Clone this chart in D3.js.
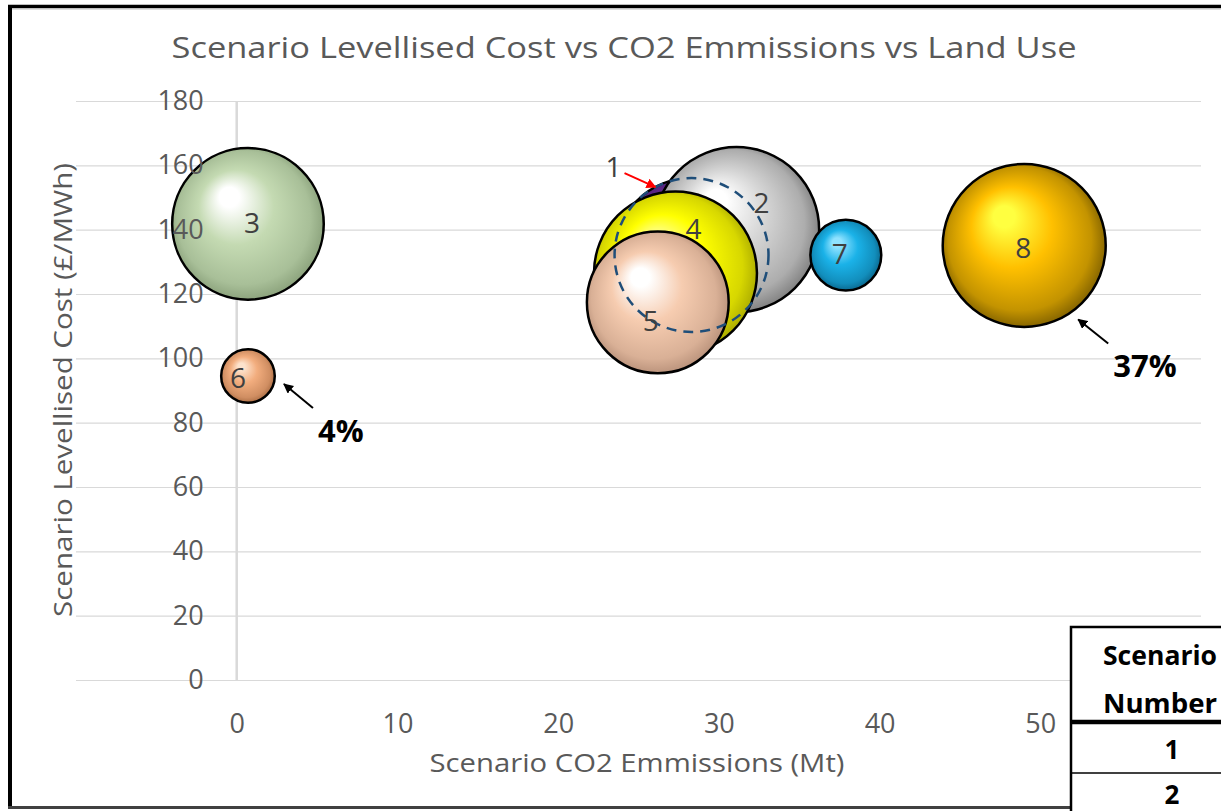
<!DOCTYPE html>
<html>
<head>
<meta charset="utf-8">
<script src="https://cdn.jsdelivr.net/npm/d3@7"></script>
<style>
  html, body { margin: 0; padding: 0; background: #fff; overflow: hidden; }
  text { font-family: "Open Sans", "Noto Sans", sans-serif; }
</style>
</head>
<body>
<svg id="chart" width="1221" height="811"></svg>
<script>
// Scenario data: CO2 emissions (Mt), levellised cost (£/MWh), land use (%)
const scenarios = [1, 2, 3, 4, 5, 6, 7, 8];
const co2Emissions = [28.3, 31.1, 0.7, 27.3, 26.2, 0.7, 37.9, 49.0];
const levellisedCost = [132.1, 140.0, 141.8, 126.5, 117.4, 94.5, 132.1, 135.1];
const landUse = [33, 38, 32, 37, 28, 4, 7, 37];

const xTicks = [0, 10, 20, 30, 40, 50];
const yTicks = [0, 20, 40, 60, 80, 100, 120, 140, 160, 180];

const titleText = "Scenario Levellised Cost vs CO2 Emmissions vs Land Use";
const xTitle = "Scenario CO2 Emmissions (Mt)";
const yTitle = "Scenario Levellised Cost (£/MWh)";
const tableHeader = ["Scenario", "Number"];
const tableRows = ["1", "2"];

// Sphere shading per scenario: [highlight, body, shadow]
const sphereColours = [
  ["#b27ae0", "#7030a0", "#35104f"],
  ["#ffffff", "#d6d6d6", "#6f6f6f"],
  ["#ffffff", "#c4dab2", "#7f9670"],
  ["#ffff90", "#ffff00", "#9a9a00"],
  ["#ffffff", "#f6ccb0", "#ad8670"],
  ["#fde2cc", "#f2ad7e", "#9c6038"],
  ["#8fe2ff", "#1ab2e8", "#07577a"],
  ["#ffff40", "#ffc000", "#6a5000"]
];

// Label placement tweaks (px) relative to each bubble centre
const labelShift = [[-78, -89], [25, -28], [4, -2], [18, -45], [-7, 18], [-10, 1], [-6, -2], [-1, 2]];

const svg = d3.select("#chart");
const W = 1221, H = 811;

const x = d3.scaleLinear().domain([-10, 60]).range([76, 1201]);
const y = d3.scaleLinear().domain([0, 180]).range([680, 101]);
const r = d3.scaleSqrt().domain([0, 37]).range([0, 81.5]);

const data = scenarios.map((s, i) => ({
  id: s, cx: co2Emissions[i], cy: levellisedCost[i], size: landUse[i], i
}));

svg.append("rect").attr("width", W).attr("height", H).attr("fill", "#fff");

// Gradients and arrow markers
const defs = svg.append("defs");
data.forEach(d => {
  const c = sphereColours[d.i];
  const g = defs.append("radialGradient")
    .attr("id", "sphere" + d.id)
    .attr("cx", "50%").attr("cy", "50%").attr("r", "55%")
    .attr("fx", "36%").attr("fy", "30%");
  g.append("stop").attr("offset", "0%").attr("stop-color", c[0]);
  g.append("stop").attr("offset", "12%").attr("stop-color", c[0]);
  g.append("stop").attr("offset", "45%").attr("stop-color", c[1]);
  g.append("stop").attr("offset", "80%").attr("stop-color", d3.interpolateRgb(c[1], c[2])(0.4));
  g.append("stop").attr("offset", "100%").attr("stop-color", c[2]);
});
[["arrowBlack", "#000"], ["arrowRed", "#ff0000"]].forEach(([id, col]) => {
  defs.append("marker").attr("id", id)
    .attr("viewBox", "0 0 10 10").attr("refX", 9).attr("refY", 5)
    .attr("markerWidth", 5).attr("markerHeight", 5)
    .attr("markerUnits", "strokeWidth").attr("orient", "auto")
    .append("path").attr("d", "M0,0 L10,5 L0,10 z").attr("fill", col);
});

// Horizontal gridlines
const grid = svg.append("g")
  .attr("transform", `translate(${x.range()[1]},0)`)
  .call(d3.axisLeft(y).tickValues(yTicks).tickSize(x.range()[1] - x.range()[0]).tickFormat(""));
grid.select(".domain").remove();
grid.selectAll(".tick line").attr("stroke", "#d9d9d9").attr("stroke-width", 1.2);

// Vertical value axis line at x = 0
svg.append("line")
  .attr("x1", x(0)).attr("x2", x(0))
  .attr("y1", y(0)).attr("y2", y(180))
  .attr("stroke", "#d9d9d9").attr("stroke-width", 2.5);

// Bubbles
const bubbles = svg.append("g");
bubbles.selectAll("circle")
  .data(data)
  .join("circle")
  .attr("cx", d => x(d.cx))
  .attr("cy", d => y(d.cy))
  .attr("r", d => r(d.size))
  .attr("fill", d => `url(#sphere${d.id})`)
  .attr("stroke", "#000")
  .attr("stroke-width", 2.5);

// Dashed outline for scenario 1, which sits behind the others
const s1 = data[0];
svg.append("circle")
  .attr("cx", x(s1.cx)).attr("cy", y(s1.cy)).attr("r", r(s1.size))
  .attr("fill", "none")
  .attr("stroke", "#1f4e79").attr("stroke-width", 2.5)
  .attr("stroke-dasharray", "10,7");

// Red pointer to scenario 1
svg.append("line")
  .attr("x1", x(s1.cx) - 67).attr("y1", y(s1.cy) - 82)
  .attr("x2", x(s1.cx) - 36).attr("y2", y(s1.cy) - 68)
  .attr("stroke", "#ff0000").attr("stroke-width", 2)
  .attr("marker-end", "url(#arrowRed)");

// Bubble number labels
svg.append("g").selectAll("text")
  .data(data)
  .join("text")
  .attr("x", d => x(d.cx) + labelShift[d.i][0])
  .attr("y", d => y(d.cy) + labelShift[d.i][1])
  .attr("text-anchor", "middle")
  .attr("dominant-baseline", "central")
  .attr("font-size", 28)
  .attr("fill", "#404040")
  .text(d => d.id);

// Y axis tick labels
const yAxis = svg.append("g")
  .attr("transform", `translate(${x(0)},0)`)
  .call(d3.axisLeft(y).tickValues(yTicks).tickSize(0).tickPadding(33));
yAxis.select(".domain").remove();
yAxis.selectAll("text")
  .attr("font-family", "Open Sans, sans-serif")
  .attr("font-size", 27).attr("fill", "#595959");

// X axis tick labels
const xAxis = svg.append("g")
  .attr("transform", `translate(0,${y(0)})`)
  .call(d3.axisBottom(x).tickValues(xTicks).tickSize(0).tickPadding(34));
xAxis.select(".domain").remove();
xAxis.selectAll("text")
  .attr("font-family", "Open Sans, sans-serif")
  .attr("font-size", 27).attr("fill", "#595959");

// Title and axis titles
svg.append("text")
  .attr("x", 624).attr("y", 58)
  .attr("text-anchor", "middle")
  .attr("font-size", 30).attr("fill", "#595959")
  .attr("textLength", 905).attr("lengthAdjust", "spacingAndGlyphs")
  .text(titleText);

svg.append("text")
  .attr("x", 637).attr("y", 772)
  .attr("text-anchor", "middle")
  .attr("font-size", 26).attr("fill", "#595959")
  .attr("textLength", 415).attr("lengthAdjust", "spacingAndGlyphs")
  .text(xTitle);

svg.append("text")
  .attr("transform", "translate(72,390) rotate(-90)")
  .attr("text-anchor", "middle")
  .attr("font-size", 26).attr("fill", "#595959")
  .attr("textLength", 454).attr("lengthAdjust", "spacingAndGlyphs")
  .text(yTitle);

// Land-use callouts for scenarios 6 and 8
const callouts = [
  { i: 5, tip: [36, 8], tail: [65, 32], text: [70, 66] },
  { i: 7, tip: [54, 74], tail: [84, 98], text: [89, 132] }
];
callouts.forEach(c => {
  const d = data[c.i];
  const bx = x(d.cx), by = y(d.cy);
  svg.append("line")
    .attr("x1", bx + c.tail[0]).attr("y1", by + c.tail[1])
    .attr("x2", bx + c.tip[0]).attr("y2", by + c.tip[1])
    .attr("stroke", "#000").attr("stroke-width", 2)
    .attr("marker-end", "url(#arrowBlack)");
  svg.append("text")
    .attr("x", bx + c.text[0]).attr("y", by + c.text[1])
    .attr("font-size", 31).attr("font-weight", 700).attr("fill", "#000")
    .text(d.size + "%");
});

// Outer frame
svg.append("line").attr("x1", 8).attr("x2", W).attr("y1", 6.5).attr("y2", 6.5)
  .attr("stroke", "#000").attr("stroke-width", 3.5);
svg.append("line").attr("x1", 8).attr("x2", W).attr("y1", 9).attr("y2", 9)
  .attr("stroke", "#bfbfbf").attr("stroke-width", 1);
svg.append("line").attr("x1", 10).attr("x2", 10).attr("y1", 5).attr("y2", 808)
  .attr("stroke", "#000").attr("stroke-width", 4);
svg.append("line").attr("x1", 8).attr("x2", 1071).attr("y1", 807.5).attr("y2", 807.5)
  .attr("stroke", "#404040").attr("stroke-width", 3);

// Scenario table (extends past the right edge)
const table = svg.append("g");
table.append("rect")
  .attr("x", 1071).attr("y", 627).attr("width", 200).attr("height", 220)
  .attr("fill", "#fff").attr("stroke", "#000").attr("stroke-width", 2.5);
table.selectAll("text.head")
  .data(tableHeader)
  .join("text").attr("class", "head")
  .attr("x", 1103).attr("y", (d, k) => 665 + k * 48)
  .attr("font-size", 26).attr("font-weight", 700).attr("fill", "#000")
  .attr("textLength", 114).attr("lengthAdjust", "spacingAndGlyphs")
  .text(d => d);
table.append("line")
  .attr("x1", 1071).attr("x2", 1221).attr("y1", 722).attr("y2", 722)
  .attr("stroke", "#000").attr("stroke-width", 4.5);
table.append("line")
  .attr("x1", 1071).attr("x2", 1221).attr("y1", 773).attr("y2", 773)
  .attr("stroke", "#000").attr("stroke-width", 1.5);
table.selectAll("text.row")
  .data(tableRows)
  .join("text").attr("class", "row")
  .attr("x", 1172).attr("y", (d, k) => 759 + k * 45)
  .attr("text-anchor", "middle")
  .attr("font-size", 26).attr("font-weight", 700).attr("fill", "#000")
  .text(d => d);
</script>
</body>
</html>
